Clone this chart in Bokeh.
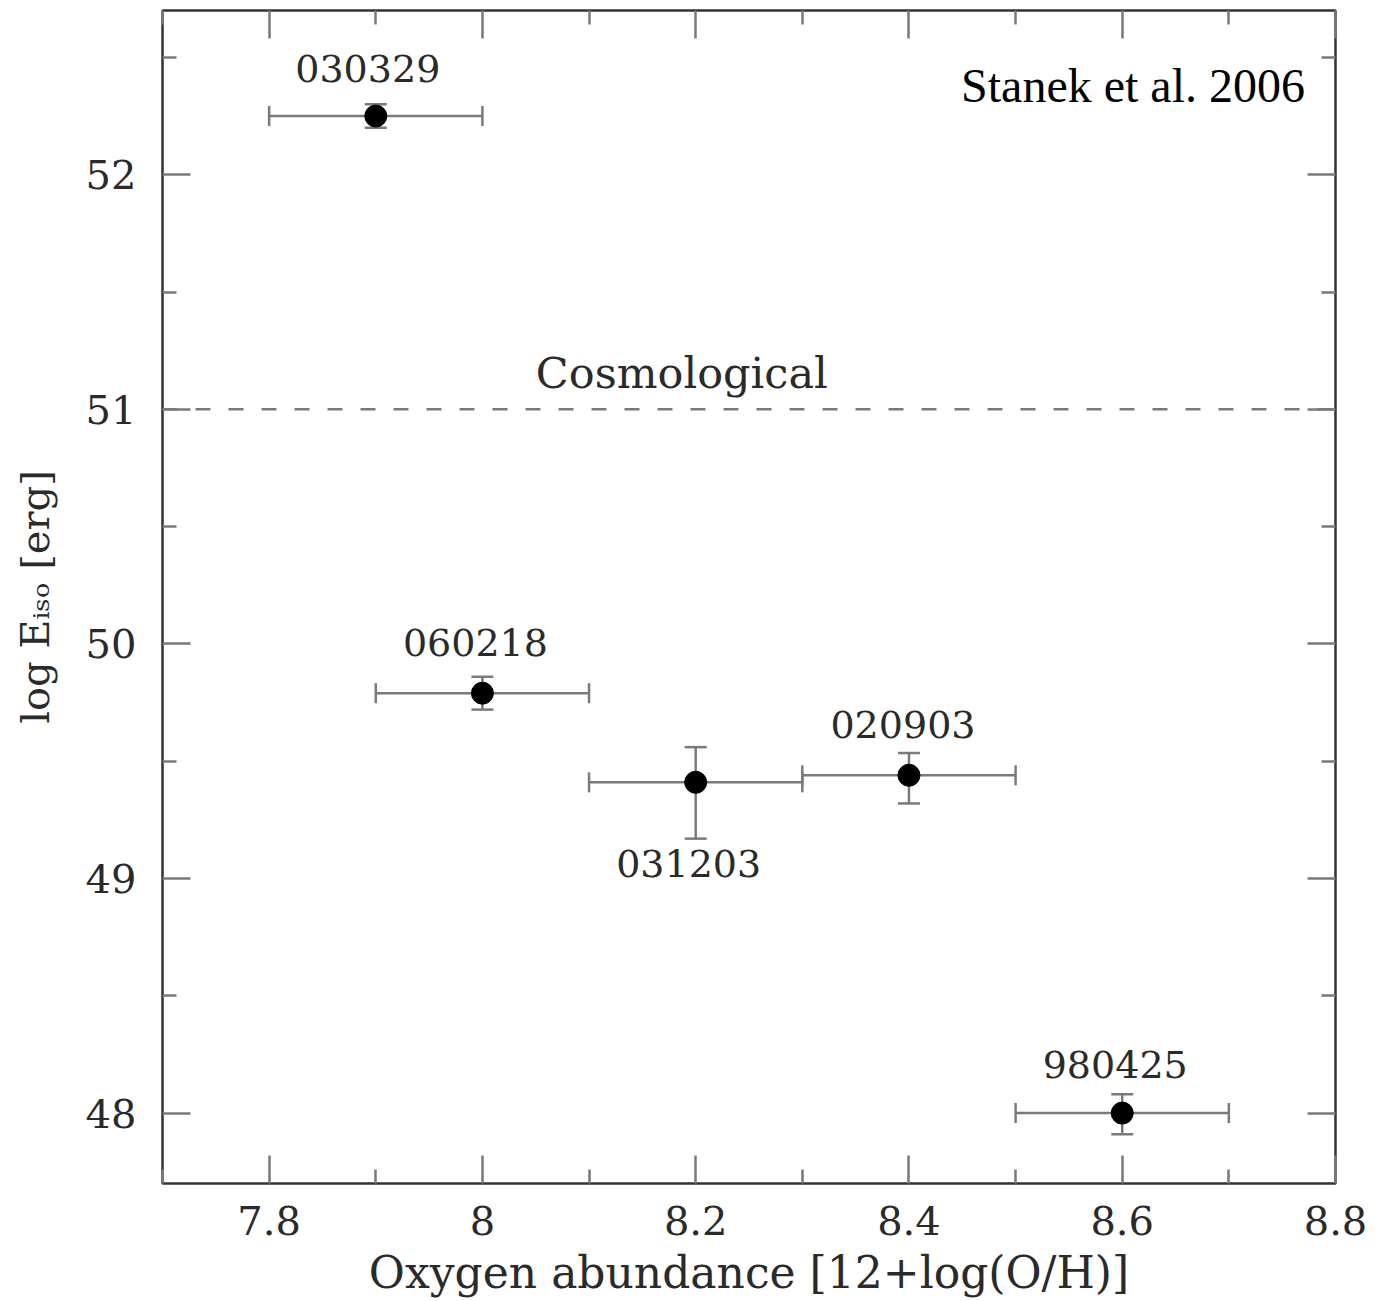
import numpy as np
from bokeh.plotting import figure
from bokeh.models import (ColumnDataSource, Whisker, TeeHead, Range1d, FixedTicker,
                          LinearAxis, Label, Span)
from bokeh.core.properties import value
from bokeh.embed import file_html
from bokeh.resources import INLINE

# ---- data ----
names = ["030329", "060218", "031203", "020903", "980425"]
oxygen = [7.9, 8.0, 8.2, 8.4, 8.6]
oxygen_err = [0.1, 0.1, 0.1, 0.1, 0.1]
log_eiso = [52.25, 49.79, 49.41, 49.44, 48.0]
log_eiso_err_up = [0.05, 0.07, 0.15, 0.095, 0.08]
log_eiso_err_dn = [0.05, 0.07, 0.24, 0.12, 0.09]
cosmological_level = 51.0
x_ticks = [7.8, 8.0, 8.2, 8.4, 8.6, 8.8]
x_minor = [7.7, 7.9, 8.1, 8.3, 8.5, 8.7]
y_ticks = [48, 49, 50, 51, 52]
y_minor = [47.5, 48.5, 49.5, 50.5, 51.5, 52.5]
x_title = "Oxygen abundance [12+log(O/H)]"
y_title = "log E\u1d62\u209b\u2092 [erg]"

# label placement (screen offsets, style only)
label_dx = [-8, -7, -7, -6, -7]
label_dy = [-48, -51, 81, -51, -49]

x = np.array(oxygen)
y = np.array(log_eiso)
src = ColumnDataSource(dict(
    x=x, y=y, name=names,
    xl=x - np.array(oxygen_err), xu=x + np.array(oxygen_err),
    yl=y - np.array(log_eiso_err_dn), yu=y + np.array(log_eiso_err_up),
    dx=label_dx, dy=label_dy,
))

SERIF = "DejaVu Serif"
TXT = "#2a2a2a"
GRAY = "#7a7a7a"

p = figure(width=1387, height=1301, output_backend="svg", toolbar_location=None,
           x_range=Range1d(7.7, 8.8), y_range=Range1d(47.7, 52.7),
           x_axis_location=None, y_axis_location=None,
           min_border_left=162, min_border_right=52, min_border_top=10,
           min_border_bottom=118)
p.grid.visible = False
p.background_fill_color = "white"
p.border_fill_color = "white"
p.outline_line_color = "#333333"
p.outline_line_width = 2.5


def style_axis(ax, show_labels):
    ax.axis_line_color = None
    ax.major_tick_in = 28
    ax.major_tick_out = 0
    ax.minor_tick_in = 14
    ax.minor_tick_out = 0
    ax.major_tick_line_color = GRAY
    ax.minor_tick_line_color = GRAY
    ax.major_tick_line_width = 2.5
    ax.minor_tick_line_width = 2.5
    if show_labels:
        ax.major_label_text_font = SERIF
        ax.major_label_text_font_size = "40px"
        ax.major_label_text_color = TXT
        ax.axis_label_text_font = SERIF
        ax.axis_label_text_font_style = "normal"
        ax.axis_label_text_color = TXT
    else:
        ax.major_label_overrides = {t: "" for t in ax.ticker.ticks}
        ax.major_label_text_font_size = "1px"
        ax.major_label_standoff = 0


xt = FixedTicker(ticks=x_ticks, minor_ticks=x_minor)
yt = FixedTicker(ticks=y_ticks, minor_ticks=y_minor)

bx = LinearAxis(ticker=xt)
style_axis(bx, True)
bx.major_label_standoff = 22
bx.major_label_overrides = {8.0: "8"}
bx.axis_label = x_title
bx.axis_label_text_font_size = "44px"
bx.axis_label_standoff = 9
p.add_layout(bx, "below")

tx = LinearAxis(ticker=FixedTicker(ticks=x_ticks, minor_ticks=x_minor))
style_axis(tx, False)
p.add_layout(tx, "above")

ly = LinearAxis(ticker=yt)
style_axis(ly, True)
ly.major_label_standoff = 26
ly.axis_label = y_title
ly.axis_label_text_font_size = "40px"
ly.axis_label_standoff = 25
p.add_layout(ly, "left")

ry = LinearAxis(ticker=FixedTicker(ticks=y_ticks, minor_ticks=y_minor))
style_axis(ry, False)
p.add_layout(ry, "right")

# cosmological dashed line
p.add_layout(Span(location=cosmological_level, dimension="width", line_color=GRAY,
                  line_width=2.5, line_dash="15 18"))

# error bars
p.add_layout(Whisker(source=src, base="x", lower="yl", upper="yu", dimension="height",
                     line_color=GRAY, line_width=2.5,
                     lower_head=TeeHead(size=22, line_color=GRAY, line_width=2.5),
                     upper_head=TeeHead(size=22, line_color=GRAY, line_width=2.5)))
p.add_layout(Whisker(source=src, base="y", lower="xl", upper="xu", dimension="width",
                     line_color=GRAY, line_width=2.5,
                     lower_head=TeeHead(size=20, line_color=GRAY, line_width=2.5),
                     upper_head=TeeHead(size=20, line_color=GRAY, line_width=2.5)))

p.scatter("x", "y", source=src, size=22, color="black")

p.text("x", "y", text="name", source=src, x_offset="dx", y_offset="dy",
       text_font=value(SERIF), text_font_size="38px", text_color=TXT,
       text_align="center", text_baseline="middle")

p.add_layout(Label(x=8.187, y=51.153, text="Cosmological", text_font=SERIF,
                   text_font_size="43px", text_color=TXT, text_align="center",
                   text_baseline="middle"))

p.add_layout(Label(x=8.7714, y=52.3803, text="Stanek et al. 2006",
                   text_font="Liberation Serif", text_font_size="48px",
                   text_color="black", text_align="right", text_baseline="middle"))

open("out.html", "w").write(file_html(p, INLINE))
